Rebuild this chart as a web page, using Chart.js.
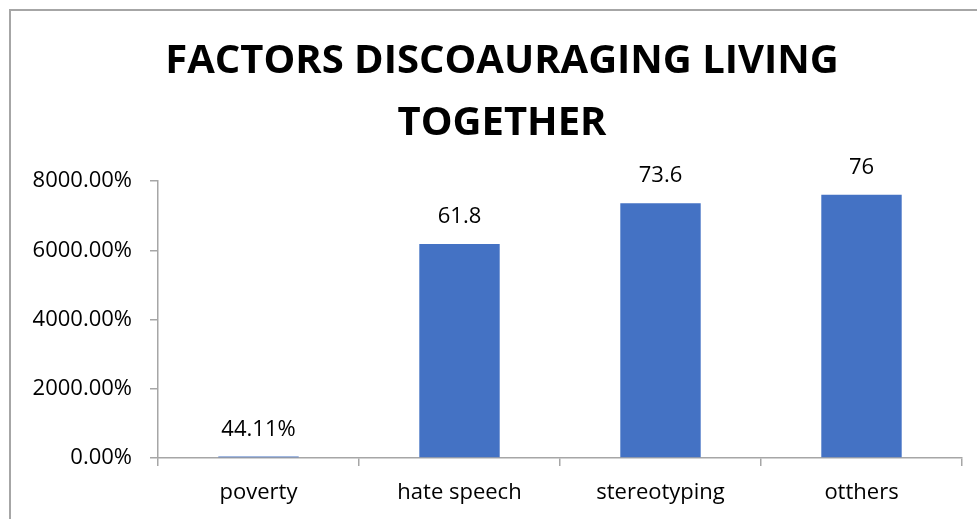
<!DOCTYPE html>
<html>
<head>
<meta charset="utf-8">
<script src="https://cdn.jsdelivr.net/npm/chart.js@4.4.1/dist/chart.umd.min.js"></script>
<style>
  html, body { margin: 0; padding: 0; background: #ffffff; overflow: hidden; }
  #wrap { position: relative; width: 977px; height: 519px; }
  #frame {
    position: absolute; left: 9px; top: 9px; width: 1100px; height: 700px;
    border: 2px solid #a6a6a6;
  }
  #chart { position: absolute; left: 0; top: 0; }
</style>
</head>
<body>
<div id="wrap">
  <div id="frame"></div>
  <canvas id="chart" width="977" height="519"></canvas>
</div>
<script>
// factors and their scores (percent axis, so 1 = 100%)
const categories = ['poverty', 'hate speech', 'stereotyping', 'otthers'];
const scores = [0.4411, 61.8, 73.6, 76];
const labelFormats = ['percent', 'plain', 'plain', 'plain'];
const yTicks = [0, 20, 40, 60, 80];

const titleLines = ['FACTORS DISCOAURAGING LIVING', 'TOGETHER'];

const axisGray = '#a6a6a6';
const barBlue = '#4472c4';
const fontFamily = "'Open Sans', sans-serif";

const pct = (v) => (v * 100).toFixed(2) + '%';

const valueLabels = {
  id: 'valueLabels',
  afterDatasetsDraw(chart) {
    const ctx = chart.ctx;
    const meta = chart.getDatasetMeta(0);
    ctx.save();
    ctx.font = '22px ' + fontFamily;
    ctx.fillStyle = '#000000';
    ctx.textAlign = 'center';
    ctx.textBaseline = 'middle';
    meta.data.forEach((bar, i) => {
      const v = scores[i];
      const txt = labelFormats[i] === 'percent' ? pct(v) : String(v);
      ctx.fillText(txt, bar.x, bar.y - 27);
    });
    ctx.restore();
  }
};

const ctx = document.getElementById('chart').getContext('2d');
new Chart(ctx, {
  type: 'bar',
  data: {
    labels: categories,
    datasets: [{
      data: scores,
      backgroundColor: barBlue,
      borderWidth: 0,
      barPercentage: 0.4,
      categoryPercentage: 1.0,
    }],
  },
  options: {
    responsive: false,
    animation: false,
    layout: { padding: { left: 27, right: 0, top: 0, bottom: 0 } },
    plugins: {
      legend: { display: false },
      tooltip: { enabled: false },
      title: {
        display: true,
        text: titleLines,
        color: '#000000',
        font: { family: fontFamily, size: 40, weight: 'bold', lineHeight: 1.55 },
        padding: { top: 31, bottom: 26 },
      },
    },
    scales: {
      x: {
        offset: true,
        grid: {
          offset: true,
          drawOnChartArea: false,
          drawTicks: true,
          tickLength: 8,
          color: axisGray,
          lineWidth: 1.5,
        },
        border: { color: axisGray, width: 1.5 },
        ticks: {
          color: '#000000',
          padding: 14,
          font: { family: fontFamily, size: 22 },
        },
        afterFit(scale) { scale.height = 61; },
      },
      y: {
        min: 0,
        max: 80,
        afterBuildTicks(scale) { scale.ticks = yTicks.map((v) => ({ value: v })); },
        grid: {
          drawOnChartArea: false,
          drawTicks: true,
          tickLength: 8,
          color: axisGray,
          lineWidth: 1.5,
        },
        border: { color: axisGray, width: 1.5 },
        ticks: {
          color: '#000000',
          padding: 18,
          font: { family: fontFamily, size: 22 },
          callback: (v) => pct(v),
        },
        afterFit(scale) { scale.width = 131; },
      },
      // empty strip on the right, keeps the plot clear of the edge
      yRight: {
        position: 'right',
        grid: { display: false },
        border: { display: false },
        ticks: { display: false },
        afterFit(scale) { scale.width = 15; },
      },
    },
  },
  plugins: [valueLabels],
});
</script>
</body>
</html>
